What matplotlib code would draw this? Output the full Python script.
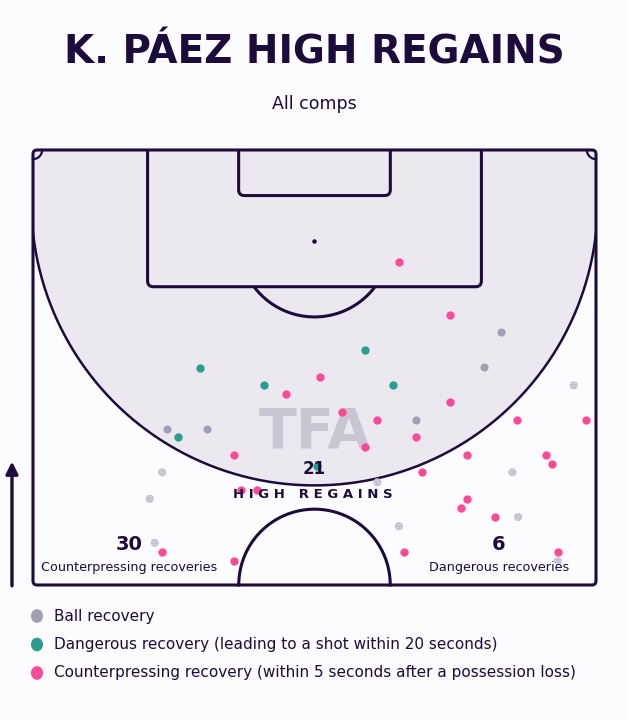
import numpy as np
import matplotlib
matplotlib.use("Agg")
import matplotlib.pyplot as plt
from matplotlib.patches import Circle, Rectangle, FancyBboxPatch

# data: pitch coordinates in metres (x across 0-68, y from goal line 0 down to halfway 52.5)
counterpress_x = [44.2, 50.4, 30.6, 24.3, 25.1, 27.1, 15.6, 24.3, 34.7, 50.4, 37.3, 41.6, 46.3,
                  40.1, 58.5, 66.8, 52.4, 62.0, 62.7, 47.0, 52.4, 51.7, 55.8, 44.8, 63.4]
counterpress_y = [13.5, 19.9, 29.4, 36.8, 41.0, 41.0, 48.5, 49.6, 27.4, 30.4, 31.6, 32.6, 34.6,
                  35.8, 32.6, 32.6, 36.8, 36.8, 37.9, 38.9, 42.1, 43.2, 44.3, 48.5, 48.5]
dangerous_x = [20.2, 40.1, 27.9, 17.5, 43.5, 34.3]
dangerous_y = [26.3, 24.1, 28.4, 34.6, 28.4, 38.1]
ball_x = [56.5, 54.5, 16.2, 21.0, 46.3, 15.6, 14.1, 14.7, 65.3, 57.9, 41.6, 58.6, 44.2, 63.4]
ball_y = [22.0, 26.2, 33.7, 33.7, 32.6, 38.9, 42.1, 47.4, 28.4, 38.9, 40.1, 44.3, 45.4, 49.6]

high_regains = 21
counterpress_total = 30
dangerous_total = 6

title = "K. PÁEZ HIGH REGAINS"
subtitle = "All comps"
legend_labels = ["Ball recovery",
                 "Dangerous recovery (leading to a shot within 20 seconds)",
                 "Counterpressing recovery (within 5 seconds after a possession loss)"]

# colours
bg = "#FCFBFD"
navy = "#1D0C3B"
shade = "#EBE9EF"
pink = "#FB4A98"
teal = "#2B9D8C"
grey = "#A39EB3"
grey_out = "#BDB9C9"
logo = "#C9C5D3"

W, H = 628, 720
fig = plt.figure(figsize=(W / 100, H / 100), dpi=100, facecolor=bg)
ax = fig.add_axes([0, 0, 1, 1])
ax.set_facecolor(bg)
# axes limits chosen so the pitch sits at the same pixels as the reference
ax.set_xlim(-3.986, 71.866)
ax.set_ylim(68.793, -18.103)
ax.axis("off")


def fx(px):
    return px / W


def fy(py):
    return 1 - py / H


pitch_w, pitch_l = 68, 52.5
lw = 2.2

# clip box for everything inside the pitch
clip = Rectangle((0, 0), pitch_w, pitch_l, transform=ax.transData, visible=False)
ax.add_patch(clip)

# high regain zone
zc_y, zr = 6.28, 34.2
zone = Circle((34, zc_y), zr, facecolor=shade, edgecolor="none", zorder=1)
ax.add_patch(zone)
zone.set_clip_path(clip)
band = Rectangle((0, 0), pitch_w, zc_y, facecolor=shade, edgecolor="none", zorder=1)
ax.add_patch(band)
t = np.linspace(0, np.pi, 400)
ln, = ax.plot(34 + zr * np.cos(t), zc_y + zr * np.sin(t), color=navy, lw=1.8, zorder=2)
ln.set_clip_path(clip)

# outer boundary
ax.add_patch(FancyBboxPatch((0, 0), pitch_w, pitch_l, boxstyle="round,pad=0,rounding_size=0.5",
                            fill=False, edgecolor=navy, lw=lw, zorder=3))
# penalty area and six-yard box (rounded bottom corners, clipped at goal line)
for x0, w, d in [(13.84, 40.32, 16.5), (24.84, 18.32, 5.5)]:
    p = FancyBboxPatch((x0, -3), w, d + 3, boxstyle="round,pad=0,rounding_size=0.7",
                       fill=False, edgecolor=navy, lw=lw, zorder=3)
    ax.add_patch(p)
    p.set_clip_path(clip)
# penalty spot
ax.scatter([34], [11], s=5, color=navy, zorder=3)
# penalty arc, only the part outside the box
a0 = np.arcsin(5.5 / 9.15)
arc = np.linspace(a0, np.pi - a0, 200)
ax.plot(34 + 9.15 * np.cos(arc), 11 + 9.15 * np.sin(arc), color=navy, lw=lw, zorder=3,
        solid_capstyle="butt")
# centre circle
half = np.linspace(0, np.pi, 200)
ax.plot(34 + 9.15 * np.cos(half), pitch_l - 9.15 * np.sin(half), color=navy, lw=lw, zorder=3)
# corner arcs
c = np.linspace(0, np.pi / 2, 50)
ax.plot(1.1 * np.cos(c), 1.1 * np.sin(c), color=navy, lw=1.6, zorder=3)
ax.plot(pitch_w - 1.1 * np.cos(c), 1.1 * np.sin(c), color=navy, lw=1.6, zorder=3)

# watermark
ax.text(34, 34.1, "TFA", ha="center", va="center", fontsize=40, fontweight="bold",
        color=logo, zorder=2)

# points
bx, by = np.array(ball_x), np.array(ball_y)
inside = np.hypot(bx - 34, by - zc_y) <= zr
ax.scatter(bx[inside], by[inside], s=34, color=grey, linewidths=0, zorder=4)
ax.scatter(bx[~inside], by[~inside], s=34, facecolor=grey_out, edgecolor="#E4E2EA",
           linewidths=0, hatch="......", zorder=4)
ax.scatter(dangerous_x, dangerous_y, s=36, color=teal, linewidths=0, zorder=4)
ax.scatter(counterpress_x, counterpress_y, s=36, color=pink, linewidths=0, zorder=4)

# direction arrow
ax.annotate("", xy=(-2.54, 37.6), xytext=(-2.54, 52.6),
            arrowprops=dict(arrowstyle="-|>", color=navy, lw=2.4, mutation_scale=18,
                            shrinkA=0, shrinkB=0))

# pitch labels
fig.text(fx(314), fy(469), str(high_regains), ha="center", va="center", fontsize=12,
         fontweight="bold", color=navy, zorder=6)
fig.text(fx(313), fy(494), " ".join("HIGH REGAINS"), ha="center", va="center", fontsize=9.5,
         fontweight="bold", color=navy, zorder=6)
fig.text(fx(129), fy(545), str(counterpress_total), ha="center", va="center", fontsize=14,
         fontweight="bold", color=navy, zorder=6)
fig.text(fx(129), fy(567), "Counterpressing recoveries", ha="center", va="center",
         fontsize=9.2, color=navy, zorder=6)
fig.text(fx(499), fy(545), str(dangerous_total), ha="center", va="center", fontsize=14,
         fontweight="bold", color=navy, zorder=6)
fig.text(fx(499), fy(567), "Dangerous recoveries", ha="center", va="center",
         fontsize=9.2, color=navy, zorder=6)

# titles
fig.text(fx(314), fy(53), title, ha="center", va="center", fontsize=28, fontweight="bold",
         color=navy)
fig.text(fx(314), fy(104), subtitle, ha="center", va="center", fontsize=12.5, color=navy)

# legend
leg_colors = [grey, teal, pink]
for i, (lab, col) in enumerate(zip(legend_labels, leg_colors)):
    yy = 616 + i * 28.5
    fig.add_artist(Circle((fx(37), fy(yy)), 0.0085, transform=fig.transFigure, color=col))
    fig.text(fx(54), fy(yy), lab, ha="left", va="center", fontsize=11, color=navy)

fig.savefig("out.png", dpi=100, facecolor=bg)
